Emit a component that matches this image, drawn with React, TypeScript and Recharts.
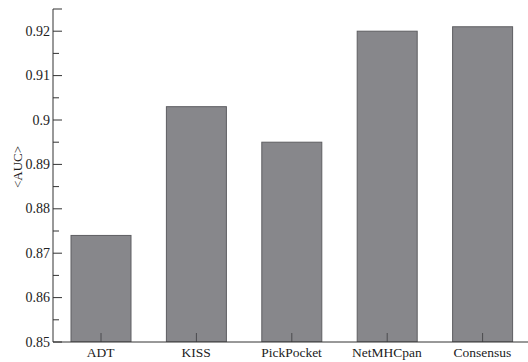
import { BarChart, Bar, XAxis, YAxis } from "recharts";

const methods = ["ADT", "KISS", "PickPocket", "NetMHCpan", "Consensus"];
const meanAuc = [0.874, 0.903, 0.895, 0.92, 0.921];
const yTicks = [
  0.85, 0.855, 0.86, 0.865, 0.87, 0.875, 0.88, 0.885, 0.89, 0.895, 0.9,
  0.905, 0.91, 0.915, 0.92, 0.925,
];
const yLabels: Record<string, string> = {
  "0.85": "0.85",
  "0.86": "0.86",
  "0.87": "0.87",
  "0.88": "0.88",
  "0.89": "0.89",
  "0.9": "0.9",
  "0.91": "0.91",
  "0.92": "0.92",
};

const data = methods.map((name, i) => ({ name, auc: meanAuc[i] }));

const FONT = "Liberation Serif";
const INK = "#333";

// inward ticks: long ones at labelled values, short ones in between
function YTick(props: any) {
  const { x, y, payload } = props;
  const key = String(Math.round(payload.value * 1000) / 1000);
  const label = yLabels[key];
  const top = payload.value > 0.924;
  return (
    <g>
      <line x1={x} x2={x + (label || top ? 9 : 6)} y1={y} y2={y} stroke={INK} strokeWidth={1} />
      {label && (
        <text x={x - 3} y={y + 4.5} textAnchor="end" fontSize={14} fontFamily={FONT} fill="#222">
          {label}
        </text>
      )}
    </g>
  );
}

function XTick(props: any) {
  const { x, y, payload } = props;
  return (
    <text x={x} y={y + 15} textAnchor="middle" fontSize={13.5} fontFamily={FONT} fill="#222">
      {payload.value}
    </text>
  );
}

// bar with the category tick drawn on top of it
function TickedBar(props: any) {
  const { x, y, width, height } = props;
  const cx = x + width / 2;
  const base = y + height;
  return (
    <g>
      <rect x={x} y={y} width={width} height={height} fill="#87878b" stroke="#5e5e62" strokeWidth={1} />
      <line x1={cx} x2={cx} y1={base} y2={base - 9} stroke="#4a4a4e" strokeWidth={1} />
    </g>
  );
}

export default function App() {
  return (
    <div
      style={{
        position: "fixed",
        left: 0,
        top: 0,
        width: 528,
        height: 362,
        overflow: "hidden",
        background: "#fff",
      }}
    >
      <BarChart
        width={531}
        height={362}
        data={data}
        margin={{ top: 9, right: 1, bottom: 0, left: 0 }}
        barSize={60}
      >
        <XAxis
          dataKey="name"
          height={20}
          stroke={INK}
          tickLine={false}
          tickSize={0}
          tickMargin={0}
          tick={<XTick />}
          interval={0}
        />
        <YAxis
          domain={[0.85, 0.925]}
          ticks={yTicks}
          width={53}
          stroke={INK}
          tickLine={false}
          tickSize={0}
          tickMargin={0}
          tick={<YTick />}
          interval={0}
          allowDataOverflow
          label={{
            content: () => (
              <text
                x={22}
                y={167}
                transform="rotate(-90 22 167)"
                textAnchor="middle"
                fontSize={13}
                fontFamily={FONT}
                fill="#222"
              >
                {"<AUC>"}
              </text>
            ),
          }}
        />
        <Bar dataKey="auc" fill="#87878b" shape={<TickedBar />} isAnimationActive={false} />
      </BarChart>
    </div>
  );
}
